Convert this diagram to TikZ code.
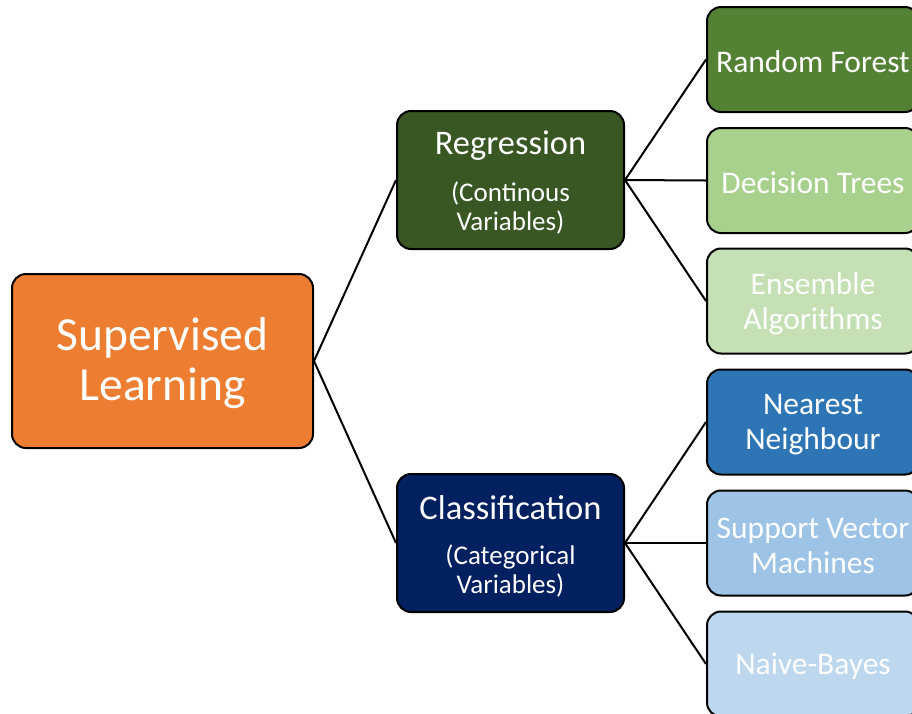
\documentclass[tikz,border=0pt]{standalone}
\usepackage{fontspec}
\setmainfont{Carlito}
\definecolor{cOrange}{HTML}{ED7D31}
\definecolor{cRegr}{HTML}{385723}
\definecolor{cForest}{HTML}{548235}
\definecolor{cTrees}{HTML}{A9D18E}
\definecolor{cEnsemble}{HTML}{C5E0B4}
\definecolor{cClass}{HTML}{002060}
\definecolor{cNearest}{HTML}{2E75B6}
\definecolor{cSVM}{HTML}{9DC3E6}
\definecolor{cBayes}{HTML}{BDD7EE}
\tikzset{
  box/.style={draw=black, line width=2pt, rounded corners=14pt,
    inner sep=0pt, anchor=center},
  rootbox/.style={box, minimum width=301pt, minimum height=174pt},
  midbox/.style={box, minimum width=227pt, minimum height=138pt},
  leafbox/.style={box, minimum width=212pt, minimum height=105pt},
  lbl/.style={text=white, align=center, inner sep=0pt},
  roottext/.style={lbl, font=\fontsize{47.5}{50}\selectfont},
  leaftext/.style={lbl, font=\fontsize{31.5}{35}\selectfont},
  title/.style={lbl, font=\fontsize{34.5}{40}\selectfont},
  sub/.style={lbl, font=\fontsize{27}{29}\selectfont},
  link/.style={draw=black, line width=2pt}
}
\begin{document}
\begin{tikzpicture}[x=1pt,y=-1pt]
\useasboundingbox (0,0) rectangle (912,713);
% root
\node[rootbox, fill=cOrange] (root) at (162.5,361) {};
\node[roottext] (rootT) at (162.5,363) {Supervised\\Learning};
% second level
\node[midbox, fill=cRegr] (reg) at (510.5,180) {};
\node[midbox, fill=cClass] (cls) at (510.5,543) {};
\node[title] (regT) at (510.5,146) {Regression};
\node[sub] (regS) at (510.5,208) {(Continous\\Variables)};
\node[title] (clsT) at (510.5,508) {Classification};
\node[sub] (clsS) at (510.5,571) {(Categorical\\Variables)};
% leaves
\node[leafbox, fill=cForest] (rf) at (813,59.5) {};
\node[leafbox, fill=cTrees] (dt) at (813,180.5) {};
\node[leafbox, fill=cEnsemble] (ea) at (813,301) {};
\node[leafbox, fill=cNearest] (nn) at (813,422) {};
\node[leafbox, fill=cSVM] (svm) at (813,543) {};
\node[leafbox, fill=cBayes] (nb) at (813,664) {};
\node[leaftext] (rfT) at (813,62) {Random Forest};
\node[leaftext] (dtT) at (813,183) {Decision Trees};
\node[leaftext] (eaT) at (813,303.5) {Ensemble\\Algorithms};
\node[leaftext] (nnT) at (813,424.5) {Nearest\\Neighbour};
\node[leaftext] (svmT) at (813,545.5) {Support Vector\\Machines};
\node[leaftext] (nbT) at (813,666.5) {Naive-Bayes};
% connectors
\draw[link] (root.east) -- (reg.west);
\draw[link] (root.east) -- (cls.west);
\draw[link] (reg.east) -- (rf.west);
\draw[link] (reg.east) -- (dt.west);
\draw[link] (reg.east) -- (ea.west);
\draw[link] (cls.east) -- (nn.west);
\draw[link] (cls.east) -- (svm.west);
\draw[link] (cls.east) -- (nb.west);
\end{tikzpicture}
\end{document}
